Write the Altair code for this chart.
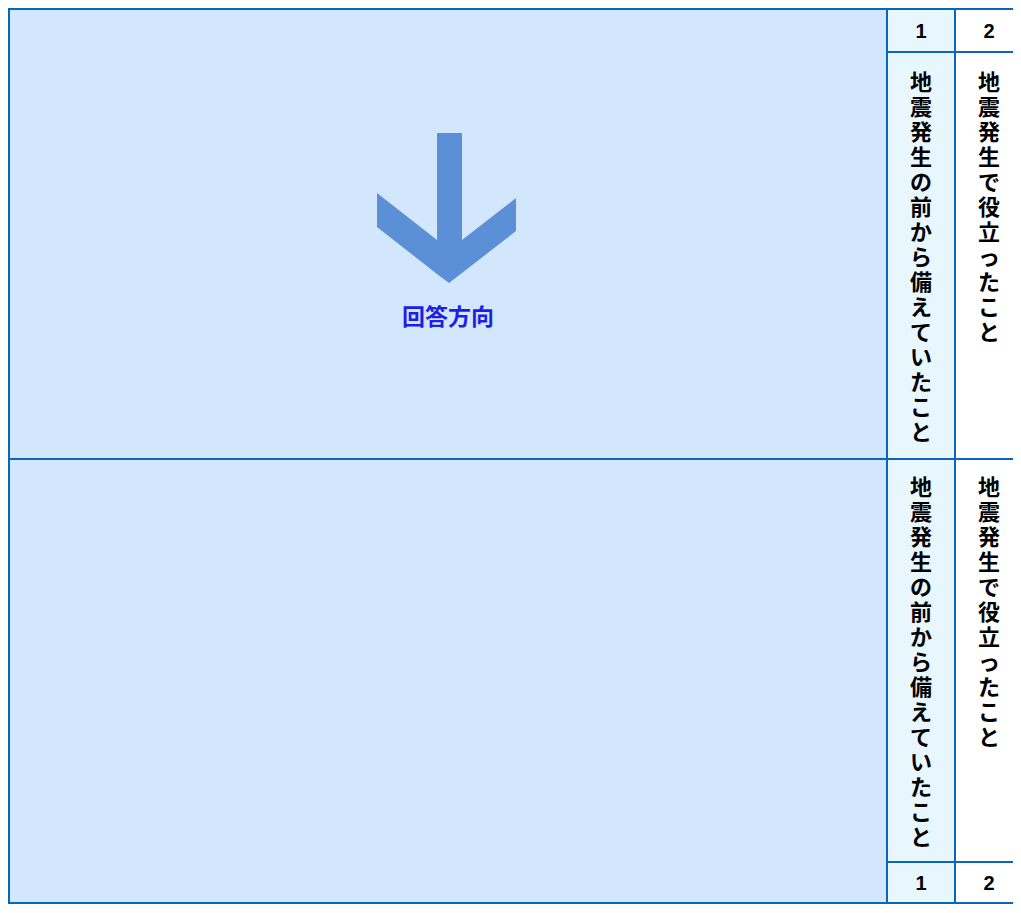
import altair as alt
import pandas as pd

# ---- content ----
column_labels = ["1", "2"]
col1_text = "地震発生の前から備えていたこと"
col2_text = "地震発生で役立ったこと"
arrow_label = "回答方向"

# ---- layout (page pixel coordinates) ----
X0, X1 = 8, 1013
Y0, Y1 = 8, 904
W, H = X1 - X0, Y1 - Y0
LEFT = 9
COL_A = 887
COL_B = 955
RIGHT = 1013
TOP = 9
HEAD = 52
MID = 459
FOOT = 862
BOTTOM = 903
COL_CENTERS = [921, 989]
PANEL_TEXT_TOP = [73, 478]
STEP = 25

LINE = "#0A66BA"
PANEL_BG = "#D2E7FC"
COL1_BG = "#E8F6FE"
ARROW = "#5B8FD6"
LABEL = "#1E1EE8"

xs = alt.Scale(domain=[X0, X1], nice=False, zero=False)
ys = alt.Scale(domain=[Y0, Y1], nice=False, zero=False, reverse=True)
X = lambda f: alt.X(f, type="quantitative", scale=xs, axis=None)
Y = lambda f: alt.Y(f, type="quantitative", scale=ys, axis=None)

# backgrounds
bg = pd.DataFrame([
    {"x": LEFT, "x2": COL_A, "y": TOP, "y2": BOTTOM, "c": PANEL_BG},
    {"x": COL_A, "x2": COL_B, "y": TOP, "y2": BOTTOM, "c": COL1_BG},
    {"x": COL_B, "x2": RIGHT, "y": TOP, "y2": BOTTOM, "c": "#FFFFFF"},
])
bg_layer = alt.Chart(bg).mark_rect().encode(
    x=X("x"), x2="x2", y=Y("y"), y2="y2",
    color=alt.Color("c:N", scale=None))

# grid lines
hl = pd.DataFrame([
    {"x": LEFT - 1, "x2": RIGHT, "y": TOP},
    {"x": LEFT - 1, "x2": RIGHT, "y": BOTTOM},
    {"x": LEFT - 1, "x2": RIGHT, "y": MID},
    {"x": COL_A, "x2": RIGHT, "y": HEAD},
    {"x": COL_A, "x2": RIGHT, "y": FOOT},
])
vl = pd.DataFrame([
    {"x": LEFT, "y": TOP, "y2": BOTTOM + 1},
    {"x": COL_A, "y": TOP, "y2": BOTTOM + 1},
    {"x": COL_B, "y": TOP, "y2": BOTTOM + 1},
])
h_layer = alt.Chart(hl).mark_rule(color=LINE, strokeWidth=2).encode(
    x=X("x"), x2="x2", y=Y("y"))
v_layer = alt.Chart(vl).mark_rule(color=LINE, strokeWidth=2).encode(
    x=X("x"), y=Y("y"), y2="y2")

# arrow
shaft = pd.DataFrame([{"x": 437, "x2": 462, "y": 133, "y2": 262}])
shaft_layer = alt.Chart(shaft).mark_rect(color=ARROW).encode(
    x=X("x"), x2="x2", y=Y("y"), y2="y2")
head = pd.DataFrame({
    "x": [377, 437, 449, 462, 516],
    "yt": [193, 240, 240, 240, 198],
    "yb": [227, 274, 283, 273, 231],
})
head_layer = alt.Chart(head).mark_area(color=ARROW, interpolate="linear", opacity=1).encode(
    x=X("x"), y=Y("yt"), y2="yb")

label_layer = alt.Chart(pd.DataFrame([{"x": 448, "y": 318, "t": arrow_label}])).mark_text(
    font="Noto Sans CJK JP", fontWeight="bold", fontSize=23, color=LABEL,
    align="center", baseline="middle").encode(x=X("x"), y=Y("y"), text="t:N")

# column numbers
nums = []
for i, lab in enumerate(column_labels):
    nums.append({"x": COL_CENTERS[i], "y": (TOP + HEAD) / 2 + 1, "t": lab})
    nums.append({"x": COL_CENTERS[i], "y": (FOOT + BOTTOM) / 2 + 1, "t": lab})
num_layer = alt.Chart(pd.DataFrame(nums)).mark_text(
    font="Liberation Sans", fontSize=20, fontWeight="bold", color="#000000",
    align="center", baseline="middle").encode(x=X("x"), y=Y("y"), text="t:N")

# vertical texts (one text per cell, one character per line)
cells = []
for top in PANEL_TEXT_TOP:
    for ci, txt in enumerate([col1_text, col2_text]):
        cells.append({"x": COL_CENTERS[ci], "y": top, "t": "\n".join(txt)})
char_layer = alt.Chart(pd.DataFrame(cells)).mark_text(
    font="Noto Sans CJK JP", fontWeight="bold", fontSize=22, color="#000000",
    lineBreak="\n", lineHeight=STEP,
    align="center", baseline="top").encode(x=X("x"), y=Y("y"), text="t:N")

chart = alt.layer(
    bg_layer, shaft_layer, head_layer, label_layer,
    h_layer, v_layer, num_layer, char_layer
).properties(
    width=W, height=H, padding=0, autosize=alt.AutoSizeParams(type="none")
).configure_view(stroke=None).configure(background="#FFFFFF")

chart.save("out.html", embed_options={"renderer": "svg", "actions": False})
